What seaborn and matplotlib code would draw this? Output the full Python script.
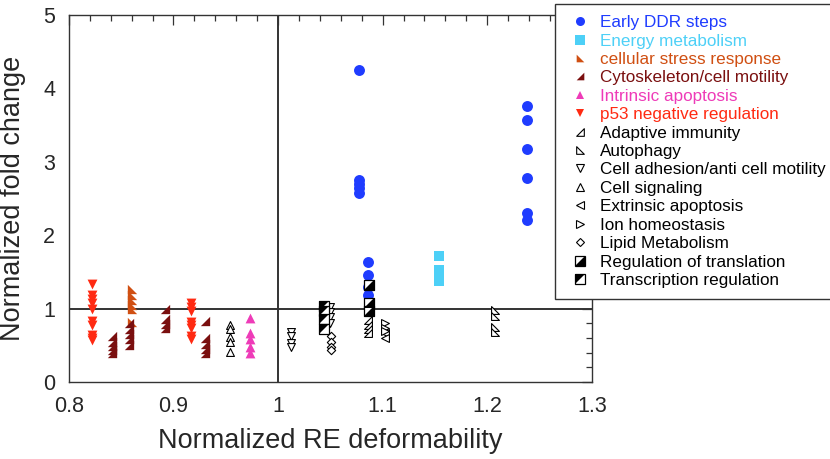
import matplotlib
matplotlib.use("Agg")
import matplotlib.pyplot as plt
import seaborn as sns
from matplotlib.lines import Line2D
from matplotlib.markers import MarkerStyle
from matplotlib.path import Path
from matplotlib.legend_handler import HandlerTuple
from matplotlib.ticker import MultipleLocator

sns.set_style("white")
plt.rcParams['font.family'] = ['Liberation Sans', 'DejaVu Sans']

# data: (x positions, y values) per category
ddr_x = [1.077] * 5 + [1.086] * 4 + [1.238] * 6
ddr_y = [4.25, 2.75, 2.70, 2.64, 2.58, 1.63, 1.46, 1.30, 1.19, 3.76, 3.57, 3.17, 2.78, 2.30, 2.21]

energy_x = [1.154] * 4
energy_y = [1.72, 1.52, 1.44, 1.37]

stress_x = [0.860] * 6
stress_y = [1.26, 1.19, 1.12, 1.05, 1.00, 0.82]

cyto_x = [0.841] * 5 + [0.857] * 5 + [0.892] * 4 + [0.930] * 5
cyto_y = [0.62, 0.55, 0.49, 0.43, 0.39,
          0.80, 0.72, 0.65, 0.58, 0.50,
          0.99, 0.86, 0.79, 0.73,
          0.83, 0.60, 0.52, 0.45, 0.40]

intrinsic_x = [0.973] * 5
intrinsic_y = [0.87, 0.67, 0.59, 0.48, 0.40]

p53_x = [0.822] * 10 + [0.917] * 8
p53_y = [1.33, 1.18, 1.13, 1.08, 0.99, 0.83, 0.77, 0.64, 0.60, 0.57,
         1.07, 1.02, 0.96, 0.82, 0.78, 0.73, 0.62, 0.58]

adaptive_x = [1.086] * 4
adaptive_y = [0.85, 0.78, 0.72, 0.66]

autophagy_x = [1.207] * 4
autophagy_y = [0.98, 0.90, 0.75, 0.68]

adhesion_x = [1.012] * 4 + [1.050] * 4
adhesion_y = [0.68, 0.62, 0.53, 0.47, 1.02, 0.95, 0.88, 0.80]

signaling_x = [0.954] * 5
signaling_y = [0.78, 0.72, 0.61, 0.55, 0.41]

extrinsic_x = [1.102] * 2
extrinsic_y = [0.66, 0.60]

ion_x = [1.102] * 3
ion_y = [0.80, 0.74, 0.70]

lipid_x = [1.051] * 4
lipid_y = [0.62, 0.55, 0.48, 0.43]

translation_x = [1.087] * 3
translation_y = [1.32, 1.08, 0.96]

transcription_x = [1.044] * 4
transcription_y = [1.03, 0.97, 0.86, 0.72]


def tri(verts):
    return MarkerStyle(Path(verts + [verts[0]], closed=True))


m_ll = tri([(-1, -1), (-1, 1), (1, -1)])   # right angle lower-left
m_lr = tri([(1, -1), (1, 1), (-1, -1)])    # right angle lower-right
m_half_lr = tri([(1, 1), (1, -1), (-1, -1)])
m_half_ul = tri([(-1, -1), (-1, 1), (1, 1)])

fig = plt.figure(figsize=(8.3, 4.59), dpi=100)
ax = fig.add_axes([0.083, 0.168, 0.630, 0.799])

ax.axhline(1, color='#333333', lw=1.4, zorder=1)
ax.axvline(1, color='#333333', lw=1.4, zorder=1)

filled = [
    ("Early DDR steps", ddr_x, ddr_y, 'o', '#1f3cff', 62),
    ("Energy metabolism", energy_x, energy_y, 's', '#4dd0f7', 60),
    ("cellular stress response", stress_x, stress_y, m_ll, '#d04f12', 45),
    ("Cytoskeleton/cell motility", cyto_x, cyto_y, m_lr, '#7a0f0f', 45),
    ("Intrinsic apoptosis", intrinsic_x, intrinsic_y, '^', '#ee3bb8', 50),
    ("p53 negative regulation", p53_x, p53_y, 'v', '#ff2a12', 50),
]
open_ = [
    ("Adaptive immunity", adaptive_x, adaptive_y, m_lr),
    ("Autophagy", autophagy_x, autophagy_y, m_ll),
    ("Cell adhesion/anti cell motility", adhesion_x, adhesion_y, 'v'),
    ("Cell signaling", signaling_x, signaling_y, '^'),
    ("Extrinsic apoptosis", extrinsic_x, extrinsic_y, '<'),
    ("Ion homeostasis", ion_x, ion_y, '>'),
    ("Lipid Metabolism", lipid_x, lipid_y, 'D'),
]

for name, xs, ys, mk, col, s in filled[:1]:
    sns.scatterplot(x=xs, y=ys, marker=mk, color=col, s=s, linewidth=0, ax=ax, zorder=3)
for name, xs, ys, mk in open_:
    s = 18 if mk == 'D' else 32
    sns.scatterplot(x=xs, y=ys, marker=mk, facecolor='white', edgecolor='black',
                    s=s, linewidth=0.8, ax=ax, zorder=3)
for xs, ys, half in [(translation_x, translation_y, m_half_lr),
                     (transcription_x, transcription_y, m_half_ul)]:
    sns.scatterplot(x=xs, y=ys, marker='s', facecolor='white', edgecolor='black',
                    s=55, linewidth=0.9, ax=ax, zorder=4)
    sns.scatterplot(x=xs, y=ys, marker=half, color='black', s=55, linewidth=0, ax=ax, zorder=4)
for name, xs, ys, mk, col, s in filled[1:]:
    sns.scatterplot(x=xs, y=ys, marker=mk, color=col, s=s, linewidth=0, ax=ax, zorder=3)

ax.set_xlim(0.8, 1.3)
ax.set_ylim(0, 5)
ax.xaxis.set_minor_locator(MultipleLocator(0.02))
ax.yaxis.set_minor_locator(MultipleLocator(0.2))
ax.set_yticks([0, 1, 2, 3, 4, 5])
ax.set_xticks([0.8, 0.9, 1.0, 1.1, 1.2, 1.3])
ax.set_xticklabels(['0.8', '0.9', '1', '1.1', '1.2', '1.3'])
ax.tick_params(which='both', direction='in', top=True, right=True, labelsize=15.5,
               color='#333333', width=0.9)
ax.tick_params(which='major', length=7, pad=10)
ax.tick_params(which='minor', length=4)
for sp in ax.spines.values():
    sp.set_color('#333333')
    sp.set_linewidth(1.0)
ax.set_xlabel('Normalized RE deformability', fontsize=19.5, labelpad=8)
ax.set_ylabel('Normalized fold change', fontsize=19.5, labelpad=12)

# legend
handles, labels, colors = [], [], []
for name, xs, ys, mk, col, s in filled:
    handles.append(Line2D([], [], ls='', marker=mk, color=col, markersize=6.5 if mk in ('o', 's') else 5.5,
                          markeredgewidth=0))
    labels.append(name)
    colors.append(col)
for name, xs, ys, mk in open_:
    handles.append(Line2D([], [], ls='', marker=mk, markerfacecolor='white', markeredgecolor='black',
                          markersize=4.5 if mk == 'D' else 5.5, markeredgewidth=0.8))
    labels.append(name)
    colors.append('black')
for name, half in [("Regulation of translation", m_half_lr), ("Transcription regulation", m_half_ul)]:
    sq = Line2D([], [], ls='', marker='s', markerfacecolor='white', markeredgecolor='black',
                markersize=6.5, markeredgewidth=0.9)
    hf = Line2D([], [], ls='', marker=half, color='black', markersize=6.5, markeredgewidth=0)
    handles.append((sq, hf))
    labels.append(name)
    colors.append('black')

leg = fig.legend(handles, labels, loc='upper left', bbox_to_anchor=(555 / 830, 1 - 4 / 459),
                 bbox_transform=fig.transFigure, fontsize=12.3, frameon=True, fancybox=False,
                 edgecolor='#333333', framealpha=1, labelspacing=0.2, handlelength=1.65,
                 handletextpad=0.35, borderpad=0.65, borderaxespad=0,
                 handler_map={tuple: HandlerTuple(ndivide=1)})
leg.get_frame().set_linewidth(1.0)
for t, c in zip(leg.get_texts(), colors):
    t.set_color(c)

fig.savefig('out.png', dpi=100)
